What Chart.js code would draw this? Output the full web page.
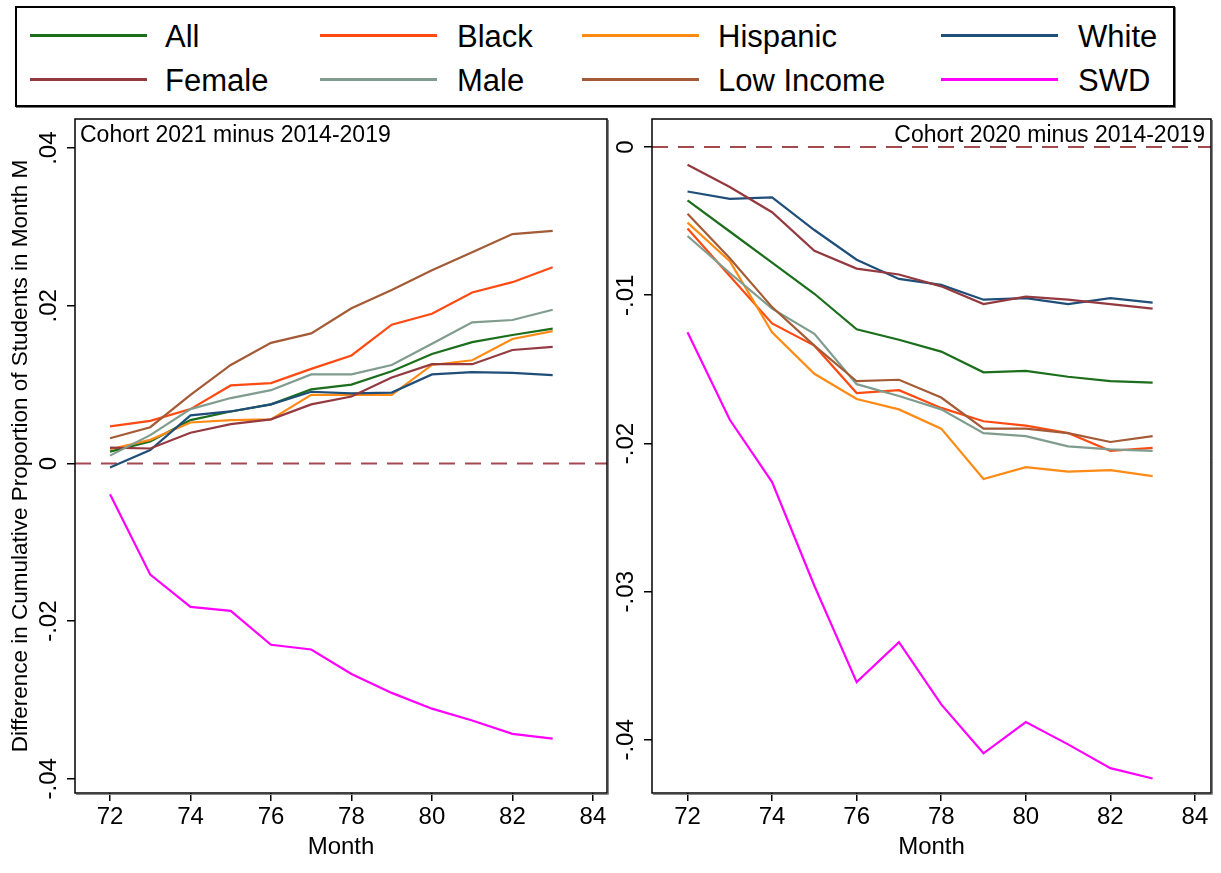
<!DOCTYPE html>
<html>
<head>
<meta charset="utf-8">
<script src="https://cdn.jsdelivr.net/npm/chart.js@4.4.0/dist/chart.umd.min.js"></script>
<style>
  body { margin: 0; background: #fff; width: 1221px; height: 873px; overflow: hidden; position: relative;
         font-family: "Liberation Sans", Arial, sans-serif; }
  #legend { position: absolute; left: 15px; top: 6px; width: 1156px; height: 97px; border: 2px solid #000;
            box-shadow: 1px 1px 0 #777; }
  .lg-line { position: absolute; height: 3px; width: 117px; }
  .lg-text { position: absolute; font-size: 31px; line-height: 31px; color: #000; white-space: nowrap; }
  canvas { position: absolute; top: 110px; }
  #left { left: 0; }
  #right { left: 615px; }
</style>
</head>
<body>
<div id="legend"></div>
<canvas id="left" width="615" height="763"></canvas>
<canvas id="right" width="606" height="763"></canvas>
<script>
// Series, in Stata's plot order
const months = [72, 73, 74, 75, 76, 77, 78, 79, 80, 81, 82, 83];
const seriesNames = ['All', 'Black', 'Hispanic', 'White', 'Female', 'Male', 'Low Income', 'SWD'];
const seriesColors = ['#1b6e1b', '#ff4a12', '#ff8a14', '#1f4e79', '#93393f', '#7f9c8e', '#a35a35', '#ff00ff'];

// Cohort 2021 minus 2014-2019
const all21      = [0.0015, 0.0028, 0.0055, 0.0066, 0.0075, 0.0094, 0.0100, 0.0117, 0.0139, 0.0154, 0.0163, 0.0171];
const black21    = [0.0047, 0.0054, 0.0069, 0.0099, 0.0102, 0.0120, 0.0137, 0.0176, 0.0190, 0.0217, 0.0230, 0.0249];
const hispanic21 = [0.0018, 0.0030, 0.0052, 0.0055, 0.0056, 0.0087, 0.0087, 0.0087, 0.0125, 0.0131, 0.0158, 0.0168];
const white21    = [-0.0005, 0.0017, 0.0061, 0.0066, 0.0075, 0.0091, 0.0089, 0.0090, 0.0113, 0.0116, 0.0115, 0.0112];
const female21   = [0.0020, 0.0019, 0.0039, 0.0050, 0.0056, 0.0075, 0.0085, 0.0109, 0.0126, 0.0126, 0.0144, 0.0148];
const male21     = [0.0010, 0.0036, 0.0069, 0.0083, 0.0093, 0.0113, 0.0113, 0.0125, 0.0152, 0.0179, 0.0182, 0.0195];
const lowInc21   = [0.0032, 0.0046, 0.0087, 0.0125, 0.0153, 0.0165, 0.0197, 0.0220, 0.0245, 0.0268, 0.0291, 0.0295];
const swd21      = [-0.0039, -0.0141, -0.0182, -0.0187, -0.0230, -0.0236, -0.0267, -0.0291, -0.0311, -0.0326, -0.0343, -0.0349];

// Cohort 2020 minus 2014-2019
const all20      = [-0.0036, -0.0057, -0.0078, -0.0099, -0.0123, -0.0130, -0.0138, -0.0152, -0.0151, -0.0155, -0.0158, -0.0159];
const black20    = [-0.0055, -0.0087, -0.0119, -0.0134, -0.0166, -0.0164, -0.0176, -0.0185, -0.0188, -0.0193, -0.0205, -0.0203];
const hispanic20 = [-0.0051, -0.0077, -0.0125, -0.0153, -0.0170, -0.0177, -0.0190, -0.0224, -0.0216, -0.0219, -0.0218, -0.0222];
const white20    = [-0.0030, -0.0035, -0.0034, -0.0056, -0.0076, -0.0089, -0.0093, -0.0103, -0.0102, -0.0106, -0.0102, -0.0105];
const female20   = [-0.0012, -0.0027, -0.0044, -0.0070, -0.0082, -0.0086, -0.0094, -0.0106, -0.0101, -0.0103, -0.0106, -0.0109];
const male20     = [-0.0060, -0.0085, -0.0109, -0.0126, -0.0160, -0.0168, -0.0177, -0.0193, -0.0195, -0.0202, -0.0204, -0.0205];
const lowInc20   = [-0.0045, -0.0075, -0.0108, -0.0134, -0.0158, -0.0157, -0.0169, -0.0190, -0.0190, -0.0193, -0.0199, -0.0195];
const swd20      = [-0.0125, -0.0184, -0.0226, -0.0296, -0.0361, -0.0334, -0.0376, -0.0409, -0.0388, -0.0403, -0.0419, -0.0426];

const xTicks = [72, 74, 76, 78, 80, 82, 84];
const yTicks21 = [0.04, 0.02, 0, -0.02, -0.04];
const yTicks20 = [0, -0.01, -0.02, -0.03, -0.04];

const FONT = '"Liberation Sans", Arial, sans-serif';

// Legend (two rows of four)
const legend = document.getElementById('legend');
const lineX = [30, 320, 582, 941];
const textX = [165, 457, 718, 1078];
const rowY = [35, 79];
seriesNames.forEach((name, i) => {
    const col = i % 4, row = Math.floor(i / 4);
    const ln = document.createElement('div');
    ln.className = 'lg-line';
    ln.style.left = (lineX[col] - 17) + 'px';
    ln.style.top = (rowY[row] - 9) + 'px';
    ln.style.background = seriesColors[i];
    legend.appendChild(ln);
    const tx = document.createElement('div');
    tx.className = 'lg-text';
    tx.textContent = name;
    tx.style.left = (textX[col] - 17) + 'px';
    tx.style.top = (rowY[row] - 22) + 'px';
    legend.appendChild(tx);
});

const fmt = v => v === 0 ? '0' : (v < 0 ? '-' : '') + Math.abs(v).toFixed(2).replace(/^0/, '');

// Frame, zero line, note and rotated y tick labels, drawn the Stata way
const stataPlugin = {
    id: 'stata',
    beforeDatasetsDraw(chart) {
        const { ctx, chartArea: a, scales: { y } } = chart;
        const y0 = y.getPixelForValue(0);
        ctx.save();
        ctx.strokeStyle = '#a34a50';
        ctx.lineWidth = 2;
        ctx.setLineDash([16, 10]);
        ctx.beginPath();
        ctx.moveTo(a.left, y0);
        ctx.lineTo(a.right, y0);
        ctx.stroke();
        ctx.restore();
    },
    afterDraw(chart, args, opts) {
        const { ctx, chartArea: a, scales: { y } } = chart;
        ctx.save();
        // plot region frame
        ctx.strokeStyle = '#000';
        ctx.lineWidth = 1.5;
        ctx.strokeRect(a.left, a.top, a.right - a.left, a.bottom - a.top);
        ctx.strokeStyle = '#888';
        ctx.lineWidth = 1;
        ctx.beginPath();
        ctx.moveTo(a.left + 1, a.bottom + 1.5);
        ctx.lineTo(a.right + 1.5, a.bottom + 1.5);
        ctx.lineTo(a.right + 1.5, a.top + 1);
        ctx.stroke();
        // note
        ctx.fillStyle = '#000';
        ctx.font = '23px ' + FONT;
        ctx.textBaseline = 'alphabetic';
        if (opts.align === 'right') {
            ctx.textAlign = 'right';
            ctx.fillText(opts.note, a.right - 6, a.top + 23);
        } else {
            ctx.textAlign = 'left';
            ctx.fillText(opts.note, a.left + 5, a.top + 23);
        }
        // y tick labels, reading upward
        ctx.font = '24px ' + FONT;
        ctx.textAlign = 'center';
        ctx.textBaseline = 'middle';
        y.ticks.forEach(t => {
            const py = y.getPixelForValue(t.value);
            ctx.save();
            ctx.translate(a.left - 26, py);
            ctx.rotate(-Math.PI / 2);
            ctx.fillText(fmt(t.value), 0, 0);
            ctx.restore();
        });
        ctx.restore();
    }
};

function makeChart(id, series, yTicks, xr, yr, note, align, yAxisWidth, yTitle, padRight) {
    const datasets = series.map((data, i) => ({
        label: seriesNames[i],
        data: months.map((m, k) => ({ x: m, y: data[k] })),
        borderColor: seriesColors[i],
        backgroundColor: seriesColors[i],
        borderWidth: 2.2,
        pointRadius: 0,
        tension: 0,
        order: series.length - i
    }));
    return new Chart(document.getElementById(id), {
        type: 'line',
        data: { datasets },
        plugins: [stataPlugin],
        options: {
            responsive: false,
            animation: false,
            layout: { padding: { top: 9, right: padRight, left: 0, bottom: 0 } },
            plugins: {
                legend: { display: false },
                tooltip: { enabled: false },
                stata: { note: note, align: align }
            },
            scales: {
                x: {
                    type: 'linear',
                    min: xr[0],
                    max: xr[1],
                    afterBuildTicks: s => { s.ticks = xTicks.map(v => ({ value: v })); },
                    afterFit: s => { s.height = 80; },
                    grid: { display: true, drawOnChartArea: false, drawTicks: true, tickLength: 8, color: '#000', lineWidth: 1.5 },
                    border: { display: false },
                    ticks: { color: '#000', font: { family: FONT, size: 24 }, padding: 2, maxRotation: 0 },
                    title: { display: true, text: 'Month', color: '#000', font: { family: FONT, size: 24 }, padding: { top: 0, bottom: 11 } }
                },
                y: {
                    type: 'linear',
                    min: yr[0],
                    max: yr[1],
                    afterBuildTicks: s => { s.ticks = yTicks.map(v => ({ value: v })); },
                    afterFit: s => { s.width = yAxisWidth; },
                    grid: { display: true, drawOnChartArea: false, drawTicks: true, tickLength: 8, color: '#000', lineWidth: 1.5 },
                    border: { display: false },
                    ticks: { display: false },
                    title: { display: !!yTitle, text: yTitle || '', color: '#000', font: { family: FONT, size: 22.5 }, padding: { top: 7, bottom: 0 } }
                }
            }
        }
    });
}

makeChart('left',
    [all21, black21, hispanic21, white21, female21, male21, lowInc21, swd21],
    yTicks21, [71.13, 84.35], [-0.0418, 0.0437],
    'Cohort 2021 minus 2014-2019', 'left', 75,
    'Difference in Cumulative Proportion of Students in Month M', 8);

makeChart('right',
    [all20, black20, hispanic20, white20, female20, male20, lowInc20, swd20],
    yTicks20, [71.16, 84.38], [-0.04358, 0.00189],
    'Cohort 2020 minus 2014-2019', 'right', 37, '', 10);
</script>
</body>
</html>
